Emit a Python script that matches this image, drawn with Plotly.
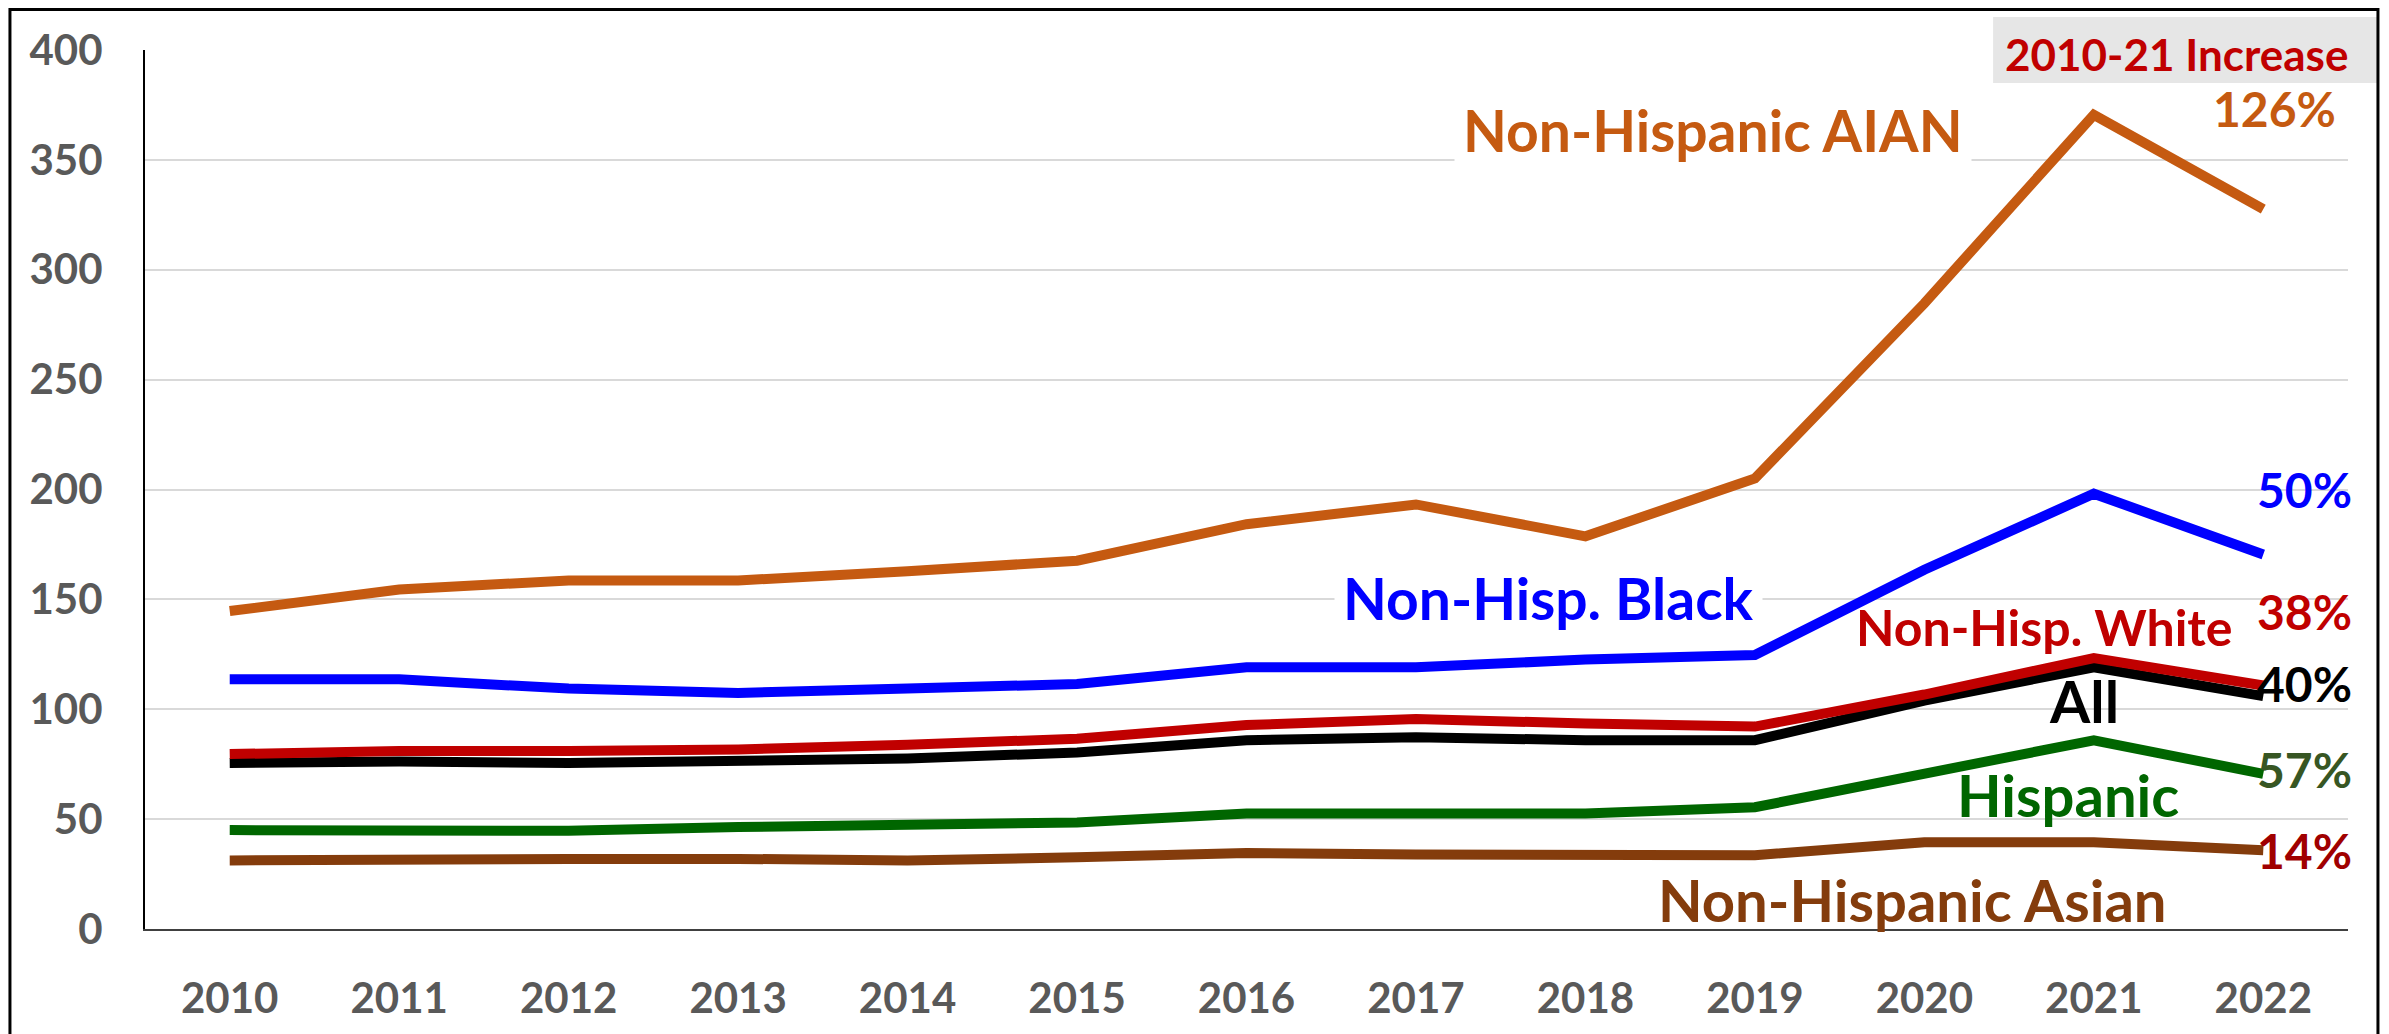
import plotly.graph_objects as go

# Years on the category axis
years = list(range(2010, 2023))

# Rates per series
aian = [144.7, 154.5, 158.6, 158.6, 162.8, 167.6, 184.2, 193.2, 178.7, 205.0, 284.7, 370.5, 327.6]
black = [113.6, 113.6, 109.4, 107.4, 109.4, 111.5, 119.1, 119.1, 122.6, 124.7, 163.5, 198.1, 170.4]
white = [79.6, 81.0, 81.0, 81.7, 83.8, 86.6, 92.8, 95.6, 93.5, 92.1, 106.7, 123.3, 110.8]
all_races = [75.5, 76.2, 75.5, 76.2, 77.6, 80.3, 85.9, 87.3, 85.9, 85.9, 103.9, 119.1, 106.0]
hispanic = [45.0, 44.7, 44.7, 46.4, 47.1, 48.5, 52.6, 52.6, 52.6, 55.4, 70.6, 85.9, 70.6]
asian = [31.2, 31.9, 31.9, 31.9, 31.2, 32.6, 34.6, 33.9, 33.2, 33.6, 39.5, 39.5, 35.8]

y_ticks = [0, 50, 100, 150, 200, 250, 300, 350, 400]

FONT = "Lato"
TICK_GRAY = "#595959"

# (name, values, colour) -- draw order bottom to top
series = [
    ("Non-Hispanic Asian", asian, "#843C0C"),
    ("Hispanic", hispanic, "#006600"),
    ("All", all_races, "#000000"),
    ("Non-Hisp. White", white, "#C00000"),
    ("Non-Hisp. Black", black, "#0000FF"),
    ("Non-Hispanic AIAN", aian, "#C55A11"),
]

fig = go.Figure()

for name, vals, color in series:
    fig.add_trace(go.Scatter(
        x=years,
        y=vals,
        name=name,
        mode='lines',
        line=dict(color=color, width=10),
        showlegend=False
    ))

# Series labels placed in the plot: text, x, y, colour, size, white background
labels = [
    ("Non-Hispanic AIAN", 2018.755, 363.6, "#C55A11", 57, True),
    ("Non-Hisp. Black", 2017.784, 150.6, "#0000FF", 57, True),
    ("Non-Hisp. White", 2020.706, 137.4, "#C00000", 50, False),
    ("All", 2020.942, 104.2, "#000000", 58, False),
    ("Hispanic", 2020.85, 61.4, "#006600", 58, False),
    ("Non-Hispanic Asian", 2019.93, 13.6, "#843C0C", 58, False),
]
for text, x, y, color, size, bg in labels:
    fig.add_annotation(
        x=x, y=y, text=text, showarrow=False,
        xanchor='center', yanchor='middle',
        font=dict(family=FONT, size=size, color=color, weight='bold'),
        bgcolor='white' if bg else 'rgba(0,0,0,0)',
        borderpad=8
    )

# Percent increase labels, right aligned (x in paper units, y in data units)
pct_labels = [
    ("126%", 0.9955, 373.3, "#C55A11"),
    ("50%", 1.0027, 200.2, "#0000FF"),
    ("38%", 1.0027, 144.7, "#C00000"),
    ("40%", 1.0027, 111.9, "#000000"),
    ("57%", 1.0027, 72.8, "#375623"),
    ("14%", 1.0027, 35.9, "#A00000"),
]
for text, x, y, color in pct_labels:
    fig.add_annotation(
        xref='paper', x=x, y=y, text="<b>" + text + "</b>", showarrow=False,
        xanchor='right', yanchor='middle',
        font=dict(family=FONT, size=48, color=color)
    )

# Grey header box
fig.add_shape(
    type='rect', xref='paper', yref='paper',
    x0=0.8389, x1=1.0136, y0=0.9625, y1=1.0375,
    fillcolor='#E6E6E6', line_width=0, layer='above'
)
fig.add_annotation(
    x=2021.49, y=398.2, text="2010-21 Increase", showarrow=False,
    xanchor='center', yanchor='middle',
    font=dict(family=FONT, size=44, color="#C00000", weight='bold')
)

# Outer chart border
fig.add_shape(
    type='rect', xref='paper', yref='paper',
    x0=-0.0613, x1=1.0136, y0=-0.2, y1=1.0461,
    line=dict(color='black', width=3), fillcolor='rgba(0,0,0,0)',
    layer='above'
)

fig.update_layout(
    width=2381,
    height=1026,
    paper_bgcolor='white',
    plot_bgcolor='white',
    margin=dict(l=137, r=41, t=42, b=105),
    xaxis=dict(
        range=[2009.5, 2022.5],
        tickvals=years,
        ticktext=[str(y) for y in years],
        showgrid=False,
        zeroline=False,
        showline=True,
        linecolor='#404040',
        linewidth=2,
        ticks='',
        ticklabelstandoff=32,
        tickfont=dict(family=FONT, size=42, color=TICK_GRAY, weight='bold')
    ),
    yaxis=dict(
        range=[0, 400],
        tickvals=y_ticks,
        showgrid=True,
        gridcolor='#D9D9D9',
        gridwidth=2,
        zeroline=False,
        showline=True,
        linecolor='black',
        linewidth=2,
        ticks='',
        ticklabelstandoff=32,
        tickfont=dict(family=FONT, size=42, color=TICK_GRAY, weight='bold')
    ),
    showlegend=False
)

fig.write_html("out.html")
